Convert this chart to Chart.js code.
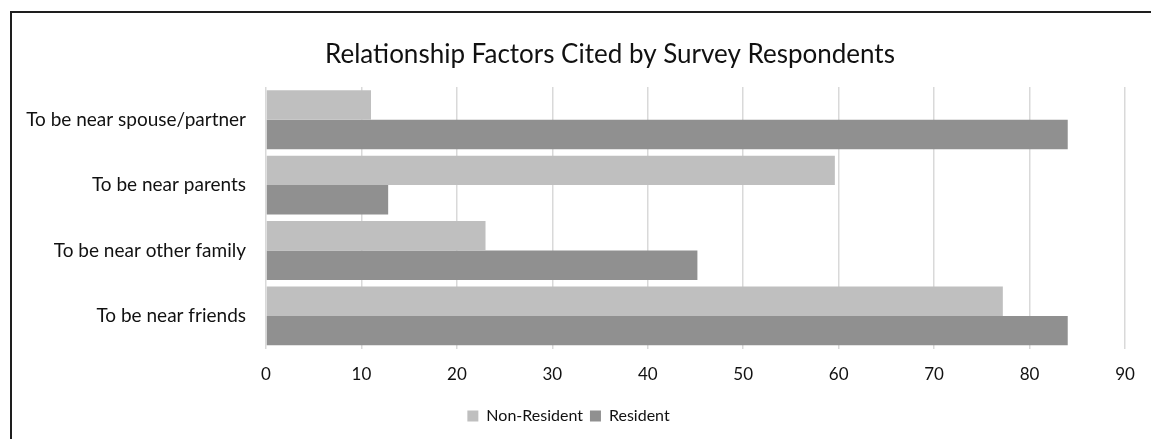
<!DOCTYPE html>
<html>
<head>
<meta charset="utf-8">
<script src="https://cdn.jsdelivr.net/npm/chart.js@4"></script>
<style>
  html, body { margin: 0; padding: 0; background: #fff; }
  body { width: 1151px; height: 439px; overflow: hidden; position: relative; }
  #frame {
    position: absolute; left: 10px; top: 11px; right: 0; bottom: 0;
    border-top: 2px solid #1e1e1e; border-left: 2px solid #1e1e1e;
  }
  #wrap { position: absolute; left: 0; top: 0; width: 1139px; height: 426px; }
</style>
</head>
<body>
<div id="frame"><div id="wrap"><canvas id="chart"></canvas></div></div>
<script>
// categories, top to bottom
const categories = [
    "To be near spouse/partner",
    "To be near parents",
    "To be near other family",
    "To be near friends"
];
const nonResident = [11, 59.6, 23, 77.2];
const resident = [84, 12.8, 45.2, 84];
const xTicks = [0, 10, 20, 30, 40, 50, 60, 70, 80, 90];
const chartTitle = 'Relationship Factors Cited by Survey Respondents';

const FONT = "Lato, sans-serif";

// the original title sits a bit right of centre, so draw it ourselves
const titlePlugin = {
    id: 'offsetTitle',
    afterDraw(chart) {
        const ctx = chart.ctx;
        ctx.save();
        ctx.font = `26px ${FONT}`;
        ctx.fillStyle = '#111';
        ctx.textAlign = 'center';
        ctx.textBaseline = 'middle';
        ctx.fillText(chartTitle, 598, 42);
        ctx.restore();
    }
};

new Chart(document.getElementById('chart'), {
    type: 'bar',
    data: {
        labels: categories,
        datasets: [
            { label: 'Non-Resident', data: nonResident, backgroundColor: '#bfbfbf' },
            { label: 'Resident', data: resident, backgroundColor: '#909090' }
        ]
    },
    options: {
        indexAxis: 'y',
        responsive: true,
        maintainAspectRatio: false,
        animation: false,
        categoryPercentage: 0.9,
        barPercentage: 1.0,
        layout: { padding: { left: 0, right: 26, top: 74, bottom: 5 } },
        scales: {
            x: {
                min: 0,
                max: 90,
                afterBuildTicks: (axis) => { axis.ticks = xTicks.map(v => ({ value: v })); },
                grid: { color: '#d9d9d9', lineWidth: 1.5, drawTicks: false },
                border: { display: false },
                ticks: { color: '#111', padding: 16, font: { family: FONT, size: 17 } }
            },
            y: {
                afterFit: (axis) => { axis.width = 254; },
                grid: { display: false, drawTicks: false },
                border: { display: false },
                ticks: { color: '#111', padding: 20, font: { family: FONT, size: 19 } }
            }
        },
        plugins: {
            title: { display: false },
            legend: {
                position: 'bottom',
                labels: {
                    color: '#111',
                    boxWidth: 11,
                    boxHeight: 11,
                    padding: 7,
                    font: { family: FONT, size: 16 }
                }
            },
            tooltip: { enabled: false }
        }
    },
    plugins: [titlePlugin]
});
</script>
</body>
</html>
